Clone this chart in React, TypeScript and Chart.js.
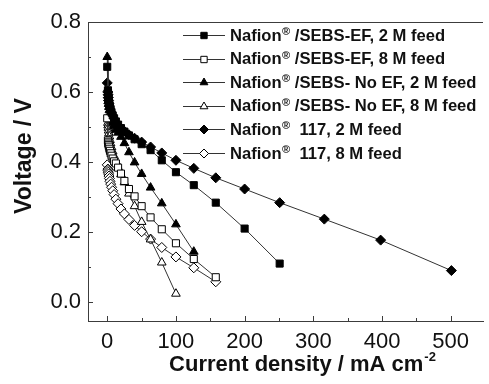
import React, { useEffect, useRef } from "react";
import { Chart, registerables } from "chart.js";

Chart.register(...registerables);

// Current density levels (mA cm^-2), shared by all series (each series uses a prefix)
const currentLevels = [0, 1, 1.26, 1.58, 2, 2.5, 3.16, 4, 5, 6.3, 8, 10, 12.6, 15.8, 20, 25, 31.6, 39.8, 50.1, 63.1, 79.4, 100, 126, 158, 200, 251, 316, 398, 501];

const seriesLabels = [
  "Nafion® /SEBS-EF, 2 M feed",
  "Nafion® /SEBS-EF, 8 M feed",
  "Nafion® /SEBS- No EF, 2 M feed",
  "Nafion® /SEBS- No EF, 8 M feed",
  "Nafion®  117, 2 M feed",
  "Nafion®  117, 8 M feed",
];

const sebsEF2M = [0.672, 0.605, 0.597, 0.589, 0.581, 0.573, 0.565, 0.557, 0.549, 0.541, 0.533, 0.525, 0.516, 0.507, 0.497, 0.487, 0.476, 0.465, 0.451, 0.434, 0.405, 0.371, 0.334, 0.284, 0.21, 0.11];
const sebsEF8M = [0.525, 0.462, 0.458, 0.453, 0.449, 0.444, 0.438, 0.432, 0.425, 0.418, 0.41, 0.402, 0.396, 0.384, 0.367, 0.346, 0.323, 0.302, 0.274, 0.242, 0.208, 0.168, 0.123, 0.071];
const sebsNoEF2M = [0.7, 0.59, 0.582, 0.574, 0.566, 0.557, 0.548, 0.539, 0.53, 0.521, 0.512, 0.502, 0.492, 0.484, 0.472, 0.454, 0.428, 0.399, 0.366, 0.327, 0.282, 0.222, 0.144];
const sebsNoEF8M = [0.607, 0.512, 0.505, 0.498, 0.49, 0.482, 0.473, 0.463, 0.453, 0.442, 0.43, 0.417, 0.402, 0.385, 0.365, 0.342, 0.31, 0.274, 0.229, 0.179, 0.113, 0.024];
const nafion117_2M = [0.626, 0.6, 0.592, 0.584, 0.576, 0.568, 0.56, 0.552, 0.544, 0.536, 0.528, 0.52, 0.512, 0.504, 0.496, 0.488, 0.478, 0.468, 0.457, 0.443, 0.426, 0.405, 0.382, 0.355, 0.323, 0.284, 0.237, 0.177, 0.09];
const nafion117_8M = [0.392, 0.38, 0.376, 0.371, 0.366, 0.36, 0.353, 0.345, 0.337, 0.328, 0.318, 0.307, 0.294, 0.281, 0.266, 0.252, 0.236, 0.219, 0.201, 0.18, 0.156, 0.129, 0.098, 0.058];

const seriesValues = [sebsEF2M, sebsEF8M, sebsNoEF2M, sebsNoEF8M, nafion117_2M, nafion117_8M];
const seriesPointStyles = ["rect", "rect", "triangle", "triangle", "rectRot", "rectRot"];
const seriesFilled = [true, false, true, false, true, false];

const xTickValues = [0, 100, 200, 300, 400, 500];
const xMinorTickValues = [50, 150, 250, 350, 450];
const yTickValues = [0, 0.2, 0.4, 0.6, 0.8];
const yMinorTickValues = [0.1, 0.3, 0.5, 0.7];

const xTitle = "Current density / mA cm";
const xTitleSup = "-2";
const yTitle = "Voltage / V";

const AXIS_COLOR = "#3c3c3c";
const TEXT_COLOR = "#111";
const LINE_COLOR = "#333";
const FONT = '"Liberation Sans", Arial, sans-serif';

function drawMarker(ctx: CanvasRenderingContext2D, style: string, x: number, y: number, r: number) {
  ctx.beginPath();
  if (style === "rect") {
    const s = Math.SQRT1_2 * r;
    ctx.rect(x - s, y - s, 2 * s, 2 * s);
  } else if (style === "triangle") {
    ctx.moveTo(x, y - r);
    ctx.lineTo(x + r * 0.866, y + r * 0.5);
    ctx.lineTo(x - r * 0.866, y + r * 0.5);
    ctx.closePath();
  } else {
    ctx.moveTo(x, y - r);
    ctx.lineTo(x + r, y);
    ctx.lineTo(x, y + r);
    ctx.lineTo(x - r, y);
    ctx.closePath();
  }
  ctx.fill();
  ctx.stroke();
}

const decorPlugin = {
  id: "decor",
  afterDraw(chart: any) {
    const { ctx, chartArea: a, scales } = chart;
    const xs = scales.x;
    const ys = scales.y;
    ctx.save();
    ctx.strokeStyle = AXIS_COLOR;
    ctx.lineWidth = 1;
    ctx.beginPath();
    ctx.moveTo(a.left, a.top + 0.5);
    ctx.lineTo(a.right, a.top + 0.5);
    for (const v of xTickValues) {
      const px = Math.round(xs.getPixelForValue(v)) + 0.5;
      ctx.moveTo(px, a.bottom);
      ctx.lineTo(px, a.bottom - 5);
    }
    for (const v of xMinorTickValues) {
      const px = Math.round(xs.getPixelForValue(v)) + 0.5;
      ctx.moveTo(px, a.bottom);
      ctx.lineTo(px, a.bottom - 3);
    }
    for (const v of yTickValues) {
      const py = Math.round(ys.getPixelForValue(v)) + 0.5;
      ctx.moveTo(a.left, py);
      ctx.lineTo(a.left + 5, py);
    }
    for (const v of yMinorTickValues) {
      const py = Math.round(ys.getPixelForValue(v)) + 0.5;
      ctx.moveTo(a.left, py);
      ctx.lineTo(a.left + 3, py);
    }
    ctx.stroke();

    // legend
    const datasets = chart.data.datasets;
    const lx0 = a.left + 95;
    const lx1 = a.left + 137;
    const mx = (lx0 + lx1) / 2;
    const tx = a.left + 142;
    datasets.forEach((ds: any, i: number) => {
      const y = a.top + 13 + i * 23.6;
      ctx.strokeStyle = LINE_COLOR;
      ctx.lineWidth = 1;
      ctx.beginPath();
      ctx.moveTo(lx0, Math.round(y) + 0.5);
      ctx.lineTo(lx1, Math.round(y) + 0.5);
      ctx.stroke();
      ctx.fillStyle = ds.pointBackgroundColor;
      ctx.strokeStyle = ds.pointBorderColor;
      drawMarker(ctx, ds.pointStyle, mx, Math.round(y) + 0.5, 4.5);
      const parts = String(ds.label).split("®");
      ctx.fillStyle = TEXT_COLOR;
      ctx.textBaseline = "middle";
      ctx.textAlign = "left";
      let x = tx;
      ctx.font = `bold 16.6px ${FONT}`;
      ctx.fillText(parts[0], x, y + 1);
      x += ctx.measureText(parts[0]).width + 0.5;
      ctx.font = `bold 11px ${FONT}`;
      ctx.fillText("®", x, y - 3);
      x += ctx.measureText("®").width;
      ctx.font = `bold 16.6px ${FONT}`;
      ctx.fillText(parts[1] || "", x, y + 1);
    });

    // x title with superscript
    ctx.fillStyle = TEXT_COLOR;
    ctx.textBaseline = "alphabetic";
    ctx.textAlign = "left";
    ctx.font = `bold 22px ${FONT}`;
    const w1 = ctx.measureText(xTitle).width;
    ctx.font = `bold 13px ${FONT}`;
    const w2 = ctx.measureText(xTitleSup).width;
    const cx = (a.left + a.right) / 2 + 17;
    const sx = cx - (w1 + w2 + 1) / 2;
    const by = 371;
    ctx.font = `bold 22px ${FONT}`;
    ctx.fillText(xTitle, sx, by);
    ctx.font = `bold 13px ${FONT}`;
    ctx.fillText(xTitleSup, sx + w1 + 1, by - 10);

    // y title
    ctx.save();
    ctx.translate(31, 156);
    ctx.rotate(-Math.PI / 2);
    ctx.textAlign = "center";
    ctx.textBaseline = "alphabetic";
    ctx.font = `bold 23px ${FONT}`;
    ctx.fillText(yTitle, 0, 0);
    ctx.restore();

    ctx.restore();
  },
};

export default function App() {
  const canvasRef = useRef<HTMLCanvasElement | null>(null);

  useEffect(() => {
    document.body.style.margin = "0";
    const canvas = canvasRef.current;
    if (!canvas) return;

    const datasets = seriesLabels.map((label, i) => ({
      label,
      data: seriesValues[i].map((v, k) => ({ x: currentLevels[k], y: v })),
      borderColor: LINE_COLOR,
      borderWidth: 1,
      pointStyle: seriesPointStyles[i],
      pointRadius: 5,
      pointBackgroundColor: seriesFilled[i] ? "#000" : "#fff",
      pointBorderColor: "#000",
      pointBorderWidth: 1,
      tension: 0,
      fill: false,
    }));

    const chart = new Chart(canvas, {
      type: "line",
      data: { datasets },
      options: {
        animation: false,
        responsive: false,
        maintainAspectRatio: false,
        layout: { padding: { top: 22, right: 0, left: 0, bottom: 0 } },
        plugins: { legend: { display: false }, tooltip: { enabled: false } },
        scales: {
          x: {
            type: "linear",
            min: -28,
            max: 547,
            grid: { display: false, drawTicks: false },
            border: { display: true, color: AXIS_COLOR, width: 1 },
            afterBuildTicks: (axis: any) => {
              axis.ticks = xTickValues.map((v) => ({ value: v }));
            },
            afterFit: (s: any) => {
              s.height = 63;
            },
            ticks: {
              padding: 8,
              color: TEXT_COLOR,
              font: { size: 22, family: FONT },
              maxRotation: 0,
              callback: (v: any) => String(v),
            },
          },
          y: {
            type: "linear",
            min: -0.054,
            max: 0.8,
            grid: { display: false, drawTicks: false },
            border: { display: true, color: AXIS_COLOR, width: 1 },
            afterBuildTicks: (axis: any) => {
              axis.ticks = yTickValues.map((v) => ({ value: v }));
            },
            afterFit: (s: any) => {
              s.width = 88;
            },
            ticks: {
              padding: 7,
              color: TEXT_COLOR,
              font: { size: 22, family: FONT },
              callback: (v: any) => Number(v).toFixed(1),
            },
          },
        },
      },
      plugins: [decorPlugin],
    } as any);

    return () => chart.destroy();
  }, []);

  return <canvas ref={canvasRef} width={489} height={384} style={{ display: "block" }} />;
}
